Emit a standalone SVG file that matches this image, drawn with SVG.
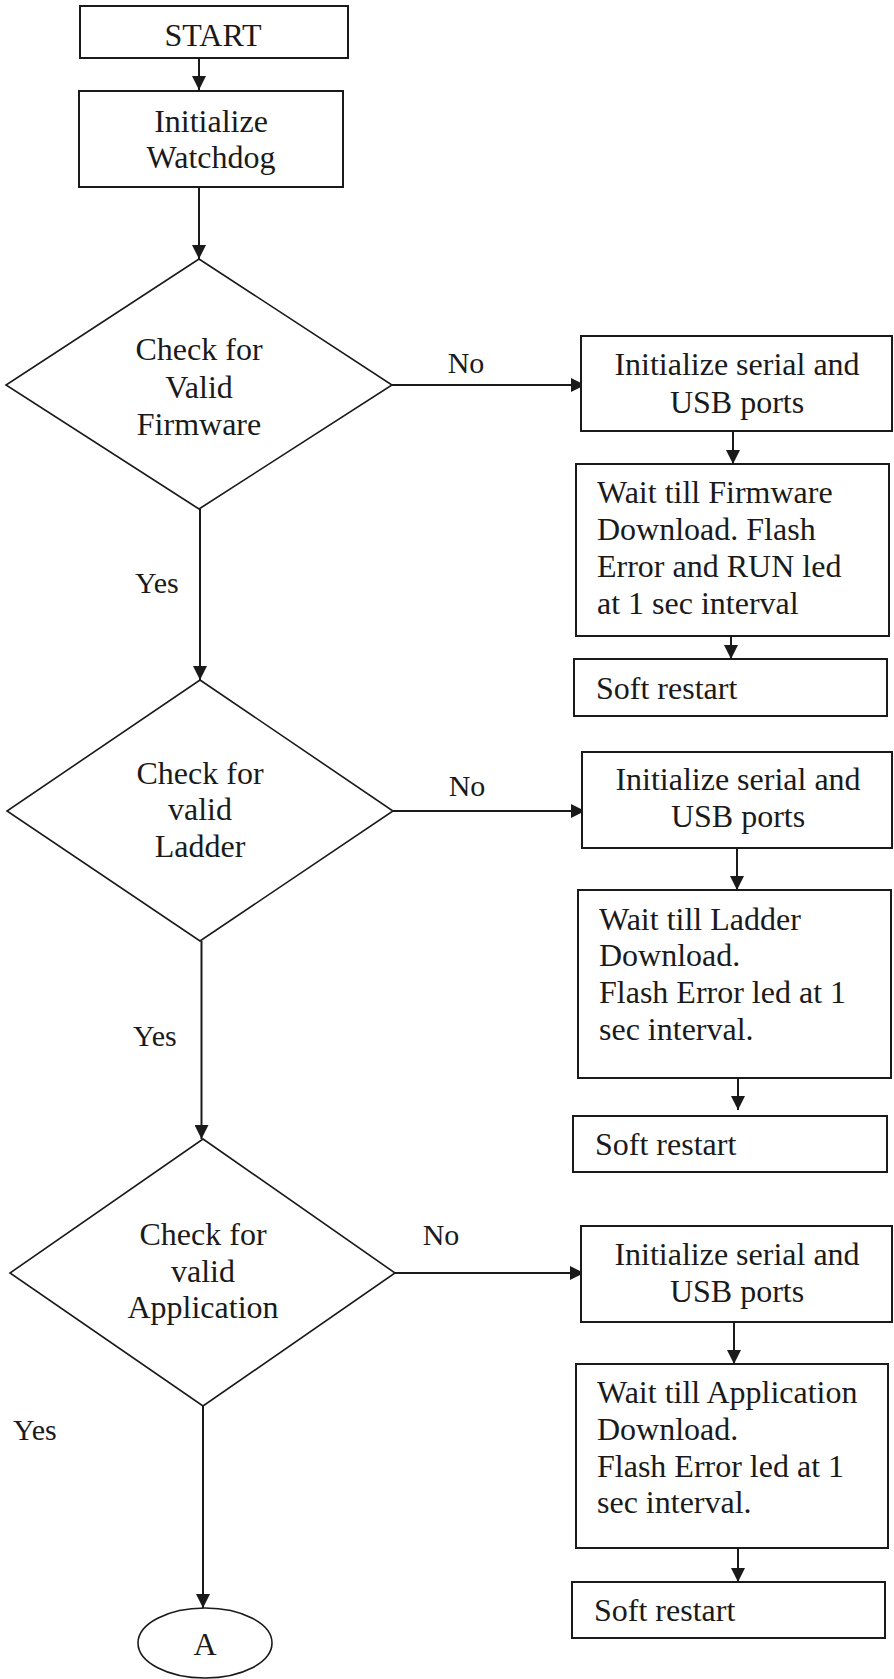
<svg xmlns="http://www.w3.org/2000/svg" width="894" height="1679" viewBox="0 0 894 1679">
  <style>
    .box { fill: #fff; stroke: #1a1a1a; stroke-width: 2; }
    .shape { fill: #fff; stroke: #1a1a1a; stroke-width: 1.6; }
    .t { font-family: 'Liberation Serif', 'DejaVu Serif', serif; font-size: 32px; fill: #1a1a1a; }
    .lbl { font-size: 30px; }
    .c { text-anchor: middle; }
    .edge { stroke: #1a1a1a; stroke-width: 2; fill: none; marker-end: url(#arrow); }
  </style>
  <defs>
    <marker id="arrow" markerUnits="userSpaceOnUse" markerWidth="14" markerHeight="14" refX="14" refY="7" orient="auto">
      <path d="M0,0 L14,7 L0,14 z" fill="#1a1a1a"/>
    </marker>
  </defs>
  <rect width="894" height="1679" fill="#fff"/>

  <!-- connectors and their Yes/No labels -->
  <g id="connectors">
    <line class="edge" x1="199" y1="58" x2="199" y2="90"/>
    <line class="edge" x1="199" y1="187" x2="199" y2="259"/>
    <line class="edge" x1="392" y1="385" x2="585" y2="385"/>
    <line class="edge" x1="733" y1="431" x2="733" y2="464"/>
    <line class="edge" x1="731" y1="634" x2="731" y2="659"/>
    <line class="edge" x1="200" y1="509" x2="200" y2="680"/>
    <line class="edge" x1="393" y1="811" x2="585" y2="811"/>
    <line class="edge" x1="737" y1="848" x2="737" y2="890"/>
    <line class="edge" x1="738" y1="1078" x2="738" y2="1110"/>
    <line class="edge" x1="201.5" y1="941" x2="201.5" y2="1139"/>
    <line class="edge" x1="395" y1="1273" x2="584" y2="1273"/>
    <line class="edge" x1="734" y1="1322" x2="734" y2="1364"/>
    <line class="edge" x1="738" y1="1548" x2="738" y2="1582"/>
    <line class="edge" x1="203" y1="1406" x2="203" y2="1608"/>
    <text class="t lbl c" x="466" y="373">No</text>
    <text class="t lbl c" x="467" y="796">No</text>
    <text class="t lbl c" x="441" y="1245">No</text>
    <text class="t lbl" x="135" y="593">Yes</text>
    <text class="t lbl" x="133" y="1046">Yes</text>
    <text class="t lbl" x="13" y="1440">Yes</text>
  </g>

  <g id="start">
    <rect class="box" x="80" y="6" width="268" height="52"/>
    <text class="t c" x="213" y="46">START</text>
  </g>

  <g id="init-watchdog">
    <rect class="box" x="79" y="91" width="264" height="96"/>
    <text class="t c" x="211" y="132">Initialize</text>
    <text class="t c" x="211" y="168">Watchdog</text>
  </g>

  <g id="check-firmware">
    <polygon class="shape" points="199,259 392,385 199,509 6,385"/>
    <text class="t c" x="199" y="360">Check for</text>
    <text class="t c" x="199" y="398">Valid</text>
    <text class="t c" x="199" y="435">Firmware</text>
  </g>

  <g id="init-ports-1">
    <rect class="box" x="581" y="336" width="311" height="95"/>
    <text class="t c" x="737" y="375">Initialize serial and</text>
    <text class="t c" x="737" y="413">USB ports</text>
  </g>

  <g id="wait-firmware">
    <rect class="box" x="576" y="464" width="313" height="172"/>
    <text class="t" x="597" y="503">Wait till Firmware</text>
    <text class="t" x="597" y="540">Download. Flash</text>
    <text class="t" x="597" y="577">Error and RUN led</text>
    <text class="t" x="597" y="614">at 1 sec interval</text>
  </g>

  <g id="soft-restart-1">
    <rect class="box" x="574" y="659" width="313" height="57"/>
    <text class="t" x="596" y="699">Soft restart</text>
  </g>

  <g id="check-ladder">
    <polygon class="shape" points="200,680 393,811 200,941 7,811"/>
    <text class="t c" x="200" y="784">Check for</text>
    <text class="t c" x="200" y="820">valid</text>
    <text class="t c" x="200" y="857">Ladder</text>
  </g>

  <g id="init-ports-2">
    <rect class="box" x="582" y="752" width="310" height="96"/>
    <text class="t c" x="738" y="790">Initialize serial and</text>
    <text class="t c" x="738" y="827">USB ports</text>
  </g>

  <g id="wait-ladder">
    <rect class="box" x="578" y="890" width="313" height="188"/>
    <text class="t" x="599" y="930">Wait till Ladder</text>
    <text class="t" x="599" y="966">Download.</text>
    <text class="t" x="599" y="1003">Flash Error led at 1</text>
    <text class="t" x="599" y="1040">sec interval.</text>
  </g>

  <g id="soft-restart-2">
    <rect class="box" x="573" y="1116" width="314" height="56"/>
    <text class="t" x="595" y="1155">Soft restart</text>
  </g>

  <g id="check-application">
    <polygon class="shape" points="203,1139 395,1273 203,1406 10,1273"/>
    <text class="t c" x="203" y="1245">Check for</text>
    <text class="t c" x="203" y="1282">valid</text>
    <text class="t c" x="203" y="1318">Application</text>
  </g>

  <g id="init-ports-3">
    <rect class="box" x="581" y="1226" width="311" height="96"/>
    <text class="t c" x="737" y="1265">Initialize serial and</text>
    <text class="t c" x="737" y="1302">USB ports</text>
  </g>

  <g id="wait-application">
    <rect class="box" x="576" y="1364" width="312" height="184"/>
    <text class="t" x="597" y="1403">Wait till Application</text>
    <text class="t" x="597" y="1440">Download.</text>
    <text class="t" x="597" y="1477">Flash Error led at 1</text>
    <text class="t" x="597" y="1513">sec interval.</text>
  </g>

  <g id="soft-restart-3">
    <rect class="box" x="572" y="1582" width="313" height="56"/>
    <text class="t" x="594" y="1621">Soft restart</text>
  </g>

  <g id="connector-a">
    <ellipse class="shape" cx="205" cy="1643" rx="67" ry="35"/>
    <text class="t c" x="205" y="1655">A</text>
  </g>
</svg>
